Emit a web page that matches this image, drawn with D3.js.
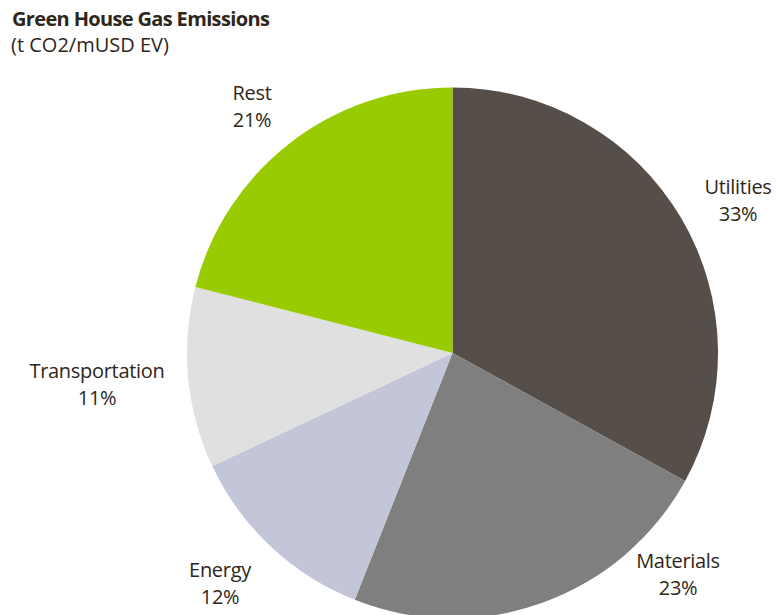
<!DOCTYPE html>
<html>
<head>
<meta charset="utf-8">
<script src="https://cdn.jsdelivr.net/npm/d3@7"></script>
<style>
  html, body { margin: 0; padding: 0; background: #ffffff; }
  svg { display: block; }
  text { font-family: "Open Sans", "Noto Sans", sans-serif; fill: #2e2619; }
</style>
</head>
<body>
<script>
// Share of greenhouse gas emissions by sector (t CO2/mUSD EV)
const categories = ["Utilities", "Materials", "Energy", "Transportation", "Rest"];
const shares = [33, 23, 12, 11, 21];
const colors = ["#554e49", "#7f7f7f", "#c3c5d8", "#e0e0e0", "#99cc00"];

const width = 776, height = 615;
const cx = 452.5, cy = 353, radius = 265.5;

// Label anchors (centre of each two-line label block)
const labelAnchors = {
  "Utilities":      [738, 200],
  "Materials":      [678, 574],
  "Energy":         [220, 583],
  "Transportation": [97, 384],
  "Rest":           [252, 106]
};

const svg = d3.select("body").append("svg")
  .attr("width", width).attr("height", height);

svg.append("text")
  .attr("x", 12).attr("y", 26)
  .style("font-size", "20px").style("font-weight", "bold")
  .style("letter-spacing", "-0.65px")
  .text("Green House Gas Emissions");
svg.append("text")
  .attr("x", 11).attr("y", 52)
  .style("font-size", "20px")
  .style("letter-spacing", "0px")
  .text("(t CO2/mUSD EV)");

const data = categories.map((c, i) => ({ category: c, value: shares[i], color: colors[i] }));

const pie = d3.pie().value(d => d.value).sort(null);
const arc = d3.arc().innerRadius(0).outerRadius(radius);

const g = svg.append("g").attr("transform", `translate(${cx},${cy})`);
g.selectAll("path")
  .data(pie(data))
  .join("path")
  .attr("d", arc)
  .attr("fill", d => d.data.color);

const labels = svg.selectAll("g.label")
  .data(data)
  .join("g")
  .attr("class", "label")
  .attr("transform", d => `translate(${labelAnchors[d.category][0]},${labelAnchors[d.category][1]})`);

labels.append("text")
  .attr("text-anchor", "middle")
  .attr("y", -6)
  .style("font-size", "20px")
  .style("letter-spacing", "-0.3px")
  .text(d => d.category);
labels.append("text")
  .attr("text-anchor", "middle")
  .attr("y", 21)
  .style("font-size", "20px")
  .style("letter-spacing", "-0.3px")
  .text(d => d.value + "%");
</script>
</body>
</html>
